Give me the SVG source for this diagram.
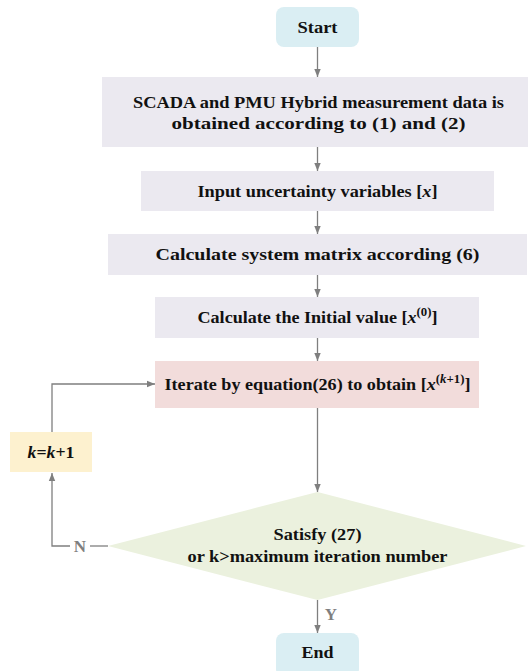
<svg xmlns="http://www.w3.org/2000/svg" width="528" height="671" viewBox="0 0 528 671">
<defs>
<marker id="ah" markerUnits="userSpaceOnUse" markerWidth="8" markerHeight="8" viewBox="0 0 8 8" refX="8" refY="4" orient="auto">
<path d="M0,0.8 L8,4 L0,7.2 Z" fill="#7f7f7f"/>
</marker>
<style>
text{font-family:'Liberation Serif','DejaVu Serif',serif;font-weight:bold;font-size:17px}
.t{fill:#111;text-anchor:middle}
.l{fill:none;stroke:#7f7f7f;stroke-width:1.3}
.g{fill:#ebe9f0}
.lab{fill:#7f7f7f;text-anchor:middle}
</style>
</defs>
<rect width="528" height="671" fill="#ffffff"/>
<g id="connectors">
<line class="l" x1="317.5" y1="47" x2="317.5" y2="77" marker-end="url(#ah)"/>
<line class="l" x1="317.5" y1="147" x2="317.5" y2="171" marker-end="url(#ah)"/>
<line class="l" x1="317.5" y1="211" x2="317.5" y2="234" marker-end="url(#ah)"/>
<line class="l" x1="317.5" y1="275" x2="317.5" y2="297" marker-end="url(#ah)"/>
<line class="l" x1="317.5" y1="338" x2="317.5" y2="361" marker-end="url(#ah)"/>
<line class="l" x1="317.5" y1="408" x2="317.5" y2="492" marker-end="url(#ah)"/>
<line class="l" x1="317.5" y1="600" x2="317.5" y2="633" marker-end="url(#ah)"/>
<polyline class="l" points="108,546 90,546"/>
<polyline class="l" points="70,546 52,546 52,473" marker-end="url(#ah)"/>
<polyline class="l" points="52,432 52,384 155,384" marker-end="url(#ah)"/>
<text class="lab" x="80" y="552">N</text>
<text class="lab" x="331" y="620">Y</text>
</g>
<g id="start">
<rect x="276" y="7" width="83" height="40" rx="8" fill="#daeef3"/>
<text class="t" x="317.5" y="33" textLength="40" lengthAdjust="spacingAndGlyphs">Start</text>
</g>
<g id="scada">
<rect class="g" x="102" y="77" width="431" height="70"/>
<text class="t" x="318.5" y="108" textLength="371" lengthAdjust="spacingAndGlyphs">SCADA and PMU Hybrid measurement data is</text>
<text class="t" x="318.5" y="129" textLength="294" lengthAdjust="spacingAndGlyphs">obtained according to (1) and (2)</text>
</g>
<g id="input">
<rect class="g" x="141" y="171" width="353" height="40"/>
<text class="t" x="317.5" y="197" textLength="240" lengthAdjust="spacingAndGlyphs">Input uncertainty variables [<tspan font-style="italic">x</tspan>]</text>
</g>
<g id="matrix">
<rect class="g" x="108" y="234" width="419" height="41"/>
<text class="t" x="317.5" y="260" textLength="324" lengthAdjust="spacingAndGlyphs">Calculate system matrix according (6)</text>
</g>
<g id="initial">
<rect class="g" x="155" y="297" width="324" height="41"/>
<text class="t" x="317.5" y="323" textLength="240" lengthAdjust="spacingAndGlyphs">Calculate the Initial value [<tspan font-style="italic">x</tspan><tspan font-size="12" dy="-7">(0)</tspan><tspan dy="7">]</tspan></text>
</g>
<g id="iterate">
<rect x="155" y="361" width="324" height="47" fill="#f2dcdb"/>
<text class="t" x="317.5" y="390" textLength="306" lengthAdjust="spacingAndGlyphs">Iterate by equation(26) to obtain [<tspan font-style="italic">x</tspan><tspan font-size="12" dy="-7">(<tspan font-style="italic">k</tspan>+1)</tspan><tspan dy="7">]</tspan></text>
</g>
<g id="kinc">
<rect x="10" y="432" width="82" height="40" fill="#fdf1cf"/>
<text class="t" x="51" y="458" textLength="47" lengthAdjust="spacingAndGlyphs"><tspan font-style="italic">k</tspan>=<tspan font-style="italic">k</tspan>+1</text>
</g>
<g id="decision">
<polygon points="317.5,492 526,546 317.5,600 108,546" fill="#ebf1de"/>
<text class="t" x="317.5" y="540" textLength="88" lengthAdjust="spacingAndGlyphs">Satisfy (27)</text>
<text class="t" x="317.5" y="562" textLength="260" lengthAdjust="spacingAndGlyphs">or k&gt;maximum iteration number</text>
</g>
<g id="end">
<rect x="276" y="633" width="83" height="44" rx="8" fill="#daeef3"/>
<text class="t" x="317.5" y="658" textLength="32" lengthAdjust="spacingAndGlyphs">End</text>
</g>
</svg>
